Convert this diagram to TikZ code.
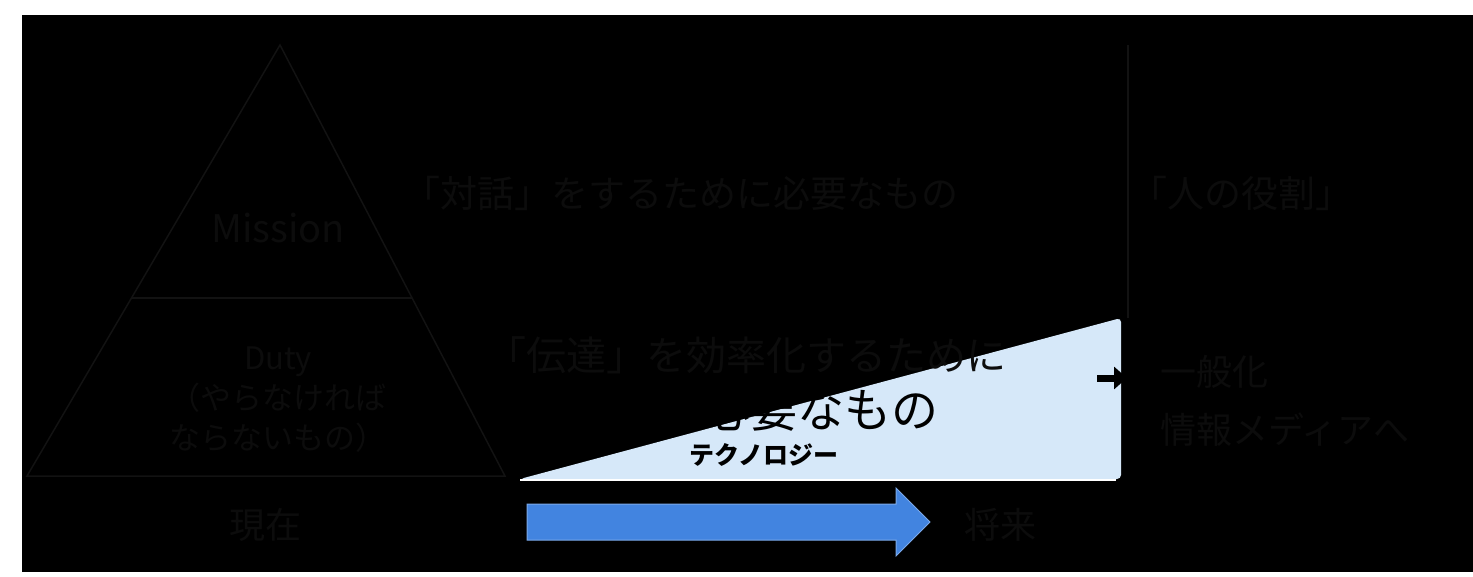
\documentclass[tikz,border=0pt]{standalone}
\usepackage{fontspec}
\newfontfamily\jp{Noto Sans CJK JP}
\usetikzlibrary{arrows.meta,calc}
\definecolor{faint}{RGB}{12,12,12}
\definecolor{faintline}{RGB}{18,18,18}
\definecolor{paleblue}{RGB}{214,232,249}
\definecolor{arrowblue}{RGB}{66,132,224}
\begin{document}
\begin{tikzpicture}[x=1pt,y=-1pt,
  txt/.style={text=faint,font=\jp\fontsize{37}{42}\selectfont,inner sep=0pt,anchor=west},
  tri/.style={text=faint,font=\jp\fontsize{31}{40}\selectfont,inner sep=0pt,align=center},
  ln/.style={draw=faintline,line width=1.5pt}]
\useasboundingbox (0,0) rectangle (1473,576);
\fill[white] (0,0) rectangle (1473,576);
\fill[black] (22,15) rectangle (1473,572);
% pyramid
\coordinate (apex) at (280,45);
\coordinate (bl) at (27,476);
\coordinate (br) at (505,476);
\draw[ln] (apex) -- (bl) -- (br) -- cycle;
\coordinate (dl) at ($(apex)!0.587!(bl)$);
\coordinate (dr) at ($(apex)!0.587!(br)$);
\draw[ln] (dl) -- (dr);
\node[tri,font=\jp\fontsize{38}{44}\selectfont] (mission) at (278,228) {Mission};
\node[tri] (duty) at (278,400) {Duty\\（やらなければ\\ならないもの）};
\node[tri,font=\jp\fontsize{36}{40}\selectfont] (now) at (265,525) {現在};
% technology wedge
\fill[paleblue, rounded corners=4pt] (520,479) -- (1121,318) -- (1121,479) -- cycle;
\draw[white,line width=1.2pt] (520,480) -- (1116,480);
% texts
\node[txt] (dialog) at (403,193) {「対話」をするために必要なもの};
\node[txt,font=\jp\fontsize{40}{46}\selectfont] (trans) at (486,355) {「伝達」を効率化するために};
\node[txt,text=black,font=\jp\fontsize{47}{52}\selectfont] (need) at (703,410) {必要なもの};
\node[text=black,font=\jp\bfseries\fontsize{25}{30}\selectfont,inner sep=0pt] (tech) at (764,455) {テクノロジー};
\node[txt] (human) at (1130,193) {「人の役割」};
\node[txt,font=\jp\fontsize{36}{42}\selectfont] (general) at (1160,372) {一般化};
\node[txt,font=\jp\fontsize{36}{42}\selectfont] (media) at (1160,430) {情報メディアへ};
\node[tri,font=\jp\fontsize{36}{40}\selectfont] (future) at (1000,525) {将来};
% connectors
\coordinate (vtop) at (1128,45);
\coordinate (vbot) at (1128,318);
\draw[ln] (vtop) -- (vbot);
\coordinate (ka) at (1097,378);
\coordinate (kb) at (1127,378);
\draw[black,line width=7pt,-{Triangle[length=13pt,width=22pt]}] (ka) -- (kb);
% blue arrow
\filldraw[fill=arrowblue,draw=arrowblue!70!white,line width=1pt]
  (527,504) -- (896,504) -- (896,488) -- (930,522) -- (896,556) -- (896,540) -- (527,540) -- cycle;
\end{tikzpicture}
\end{document}
